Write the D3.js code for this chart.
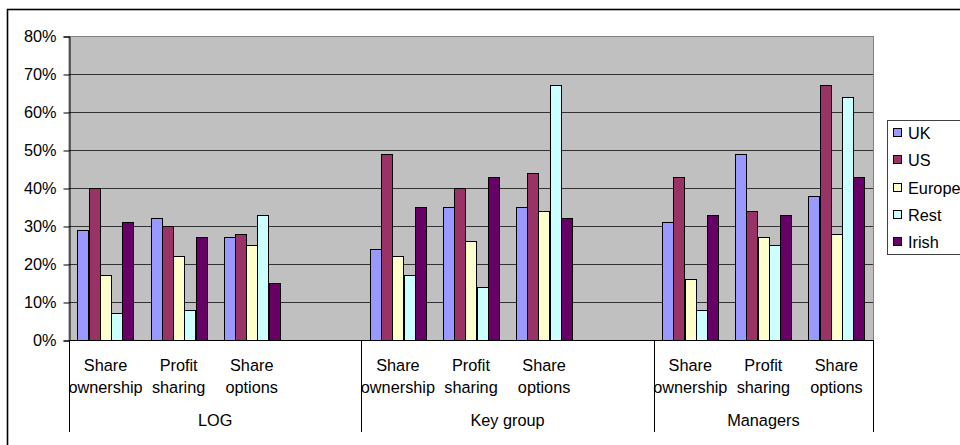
<!DOCTYPE html>
<html><head><meta charset="utf-8">
<script src="https://cdn.jsdelivr.net/npm/d3@7"></script>
<style>body{margin:0;background:#fff}svg{display:block;font-family:"Liberation Sans",Arial,sans-serif}</style>
</head><body>
<svg id="c" width="960" height="445"></svg>
<script>
const groups = ["LOG", "Key group", "Managers"];
const subcats = ["Share ownership", "Profit sharing", "Share options"];
const groupSlots = [4, 4, 3]; // Excel leaves an empty slot after LOG and Key group
const series = ["UK", "US", "Europe", "Rest", "Irish"];
const colors = ["#9999ff", "#993366", "#ffffcc", "#ccffff", "#660066"];
const yTicks = [0, 10, 20, 30, 40, 50, 60, 70, 80];
// values in %, per group, per subcategory, per series
const UK    = [[29, 32, 27], [24, 35, 35], [31, 49, 38]];
const US    = [[40, 30, 28], [49, 40, 44], [43, 34, 67]];
const Europe= [[17, 22, 25], [22, 26, 34], [16, 27, 28]];
const Rest  = [[7, 8, 33],   [17, 14, 67], [8, 25, 64]];
const Irish = [[31, 27, 15], [35, 43, 32], [33, 33, 43]];
const seriesValues = [UK, US, Europe, Rest, Irish];

const svg = d3.select("#c");
const L = 69, R = 873, T = 36, B = 340;

// outer chart border
svg.append("rect").attr("x", 7.5).attr("y", 9.5).attr("width", 1000).attr("height", 600)
  .attr("fill", "#fff").attr("stroke", "#000").attr("stroke-width", 1.6);

// slots
const slots = [];
groups.forEach((g, gi) => {
  for (let s = 0; s < groupSlots[gi]; s++) slots.push({g: gi, s: s, key: gi + "-" + s});
});
const x = d3.scaleBand().domain(slots.map(d => d.key)).range([L, R]).padding(0);
const y = d3.scaleLinear().domain([0, 80]).range([B, T]);
const bw = x.bandwidth() / (5 + 1.5);
const xs = d3.scaleBand().domain(series).range([0, bw * 5]);

// plot area
svg.append("rect").attr("x", L).attr("y", T + 0.5).attr("width", R - L + 0.5).attr("height", B - T)
  .attr("fill", "#c0c0c0").attr("stroke", "#808080").attr("stroke-width", 1);

// gridlines
svg.append("g").selectAll("line").data(yTicks.filter(t => t > 0 && t < 80)).join("line")
  .attr("x1", L).attr("x2", R).attr("y1", d => Math.round(y(d)) + 0.5).attr("y2", d => Math.round(y(d)) + 0.5)
  .attr("stroke", "#333").attr("stroke-width", 1);

// bars
const barData = [];
slots.forEach(sl => {
  if (sl.s >= 3) return;
  series.forEach((se, si) => {
    barData.push({slot: sl.key, series: se, si: si, v: seriesValues[si][sl.g][sl.s]});
  });
});
svg.append("g").selectAll("rect").data(barData).join("rect")
  .attr("x", d => Math.round(x(d.slot) + bw * 0.75 + xs(d.series)) + 0.5)
  .attr("width", Math.round(xs.bandwidth()))
  .attr("y", d => Math.round(y(d.v)) + 0.5)
  .attr("height", d => B - Math.round(y(d.v)))
  .attr("fill", d => colors[d.si]).attr("stroke", "#000").attr("stroke-width", 1);

// y axis
const yAxis = d3.axisLeft(y).tickValues(yTicks).tickFormat(d => d + "%").tickSize(6).tickPadding(7);
const ya = svg.append("g").attr("transform", `translate(${L + 0.5},0.5)`).call(yAxis);
ya.select(".domain").attr("stroke", "#000");
ya.selectAll(".tick line").attr("stroke", "#000");
ya.selectAll(".tick text").attr("font-size", 16.3).attr("fill", "#000").attr("font-family", "Liberation Sans, Arial, sans-serif");

// x axis baseline
svg.append("line").attr("x1", L).attr("x2", R).attr("y1", B + 0.5).attr("y2", B + 0.5).attr("stroke", "#000");

// group separators
const gStart = [], gEnd = [];
groups.forEach((g, gi) => {
  const keys = slots.filter(s => s.g === gi).map(s => s.key);
  gStart.push(x(keys[0]));
  gEnd.push(x(keys[keys.length - 1]) + x.bandwidth());
});
const seps = [gStart[0], gStart[1], gStart[2], gEnd[2]];
svg.append("g").selectAll("line").data(seps).join("line")
  .attr("x1", d => Math.round(d) + 0.5).attr("x2", d => Math.round(d) + 0.5)
  .attr("y1", B).attr("y2", 432).attr("stroke", "#000").attr("stroke-width", 1);

// subcategory labels
const lab = svg.append("g").attr("font-size", 16.3).attr("fill", "#000").attr("text-anchor", "middle");
slots.filter(s => s.s < 3).forEach(sl => {
  const cx = x(sl.key) + x.bandwidth() / 2;
  const words = subcats[sl.s].split(" ");
  lab.append("text").attr("x", cx).attr("y", 371).text(words[0]);
  lab.append("text").attr("x", cx).attr("y", 393).text(words[1]);
});
// group labels
groups.forEach((g, gi) => {
  lab.append("text").attr("x", (gStart[gi] + gEnd[gi]) / 2).attr("y", 426).text(g);
});

// legend
const lg = svg.append("g");
lg.append("rect").attr("x", 887.5).attr("y", 120.5).attr("width", 100).attr("height", 134)
  .attr("fill", "#fff").attr("stroke", "#404040");
const ly = d3.scalePoint().domain(series).range([133, 242]);
lg.selectAll("rect.sw").data(series).join("rect").attr("class", "sw")
  .attr("x", 893.5).attr("y", d => Math.round(ly(d)) - 4.5).attr("width", 8).attr("height", 8)
  .attr("fill", (d, i) => colors[i]).attr("stroke", "#000");
lg.selectAll("text").data(series).join("text")
  .attr("x", 908).attr("y", d => ly(d) + 6).attr("font-size", 16.3).text(d => d);
</script>
</body></html>
